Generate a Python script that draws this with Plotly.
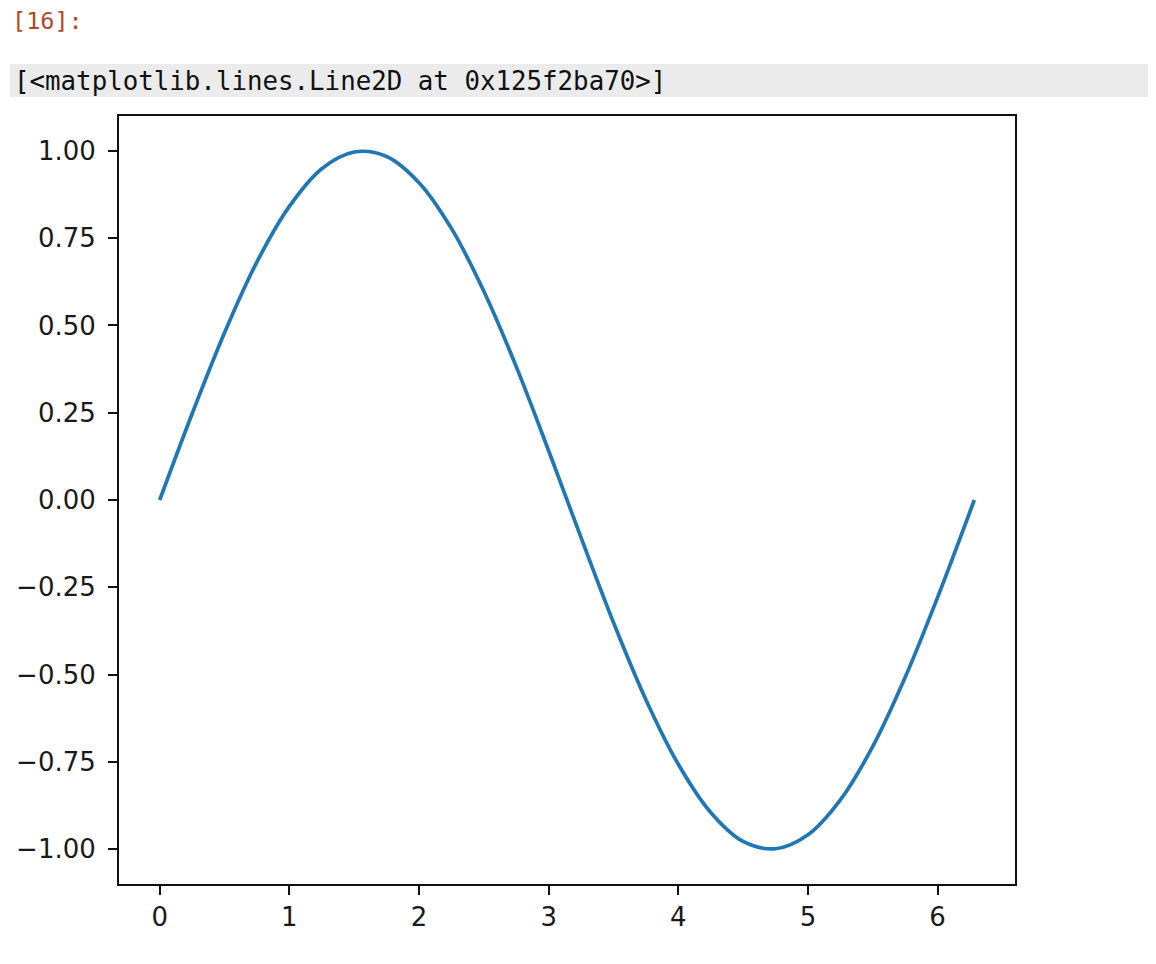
import plotly.graph_objects as go

# Data
x_values = [0.00, 0.25, 0.50, 0.75, 1.00, 1.25, 1.50, 1.75, 2.00, 2.25, 2.50, 2.75,
            3.00, 3.25, 3.50, 3.75, 4.00, 4.25, 4.50, 4.75, 5.00, 5.25, 5.50, 5.75,
            6.00, 6.283]
y_values = [0.000, 0.247, 0.479, 0.682, 0.841, 0.949, 0.997, 0.984, 0.909, 0.778,
            0.598, 0.382, 0.141, -0.108, -0.351, -0.572, -0.757, -0.895, -0.978,
            -0.999, -0.959, -0.859, -0.706, -0.508, -0.279, 0.000]
x_ticks = [0, 1, 2, 3, 4, 5, 6]
y_ticks = [-1.00, -0.75, -0.50, -0.25, 0.00, 0.25, 0.50, 0.75, 1.00]
prompt_text = "[16]:"
repr_text = "[&lt;matplotlib.lines.Line2D at 0x125f2ba70&gt;]"

W, H = 1140, 948
OFF = 8  # default body margin of the page

def px(xp):
    return (xp - OFF) / W

def py(yp):
    return 1 - (yp - OFF) / H

fig = go.Figure()
fig.add_trace(go.Scatter(
    x=x_values, y=y_values, mode="lines",
    line=dict(color="#1f77b4", width=3.7, shape="spline", smoothing=1.0),
    showlegend=False, hoverinfo="skip",
))

axis_common = dict(
    showline=True, mirror=True, linecolor="#111111", linewidth=2,
    ticks="outside", ticklen=9, tickwidth=2, tickcolor="#111111",
    showgrid=False, zeroline=False,
    tickfont=dict(family="DejaVu Sans", size=26, color="#1a1a1a"),
)

fig.update_layout(
    width=W, height=H, autosize=False,
    margin=dict(l=0, r=0, t=0, b=0),
    paper_bgcolor="white", plot_bgcolor="white",
    xaxis=dict(domain=[px(119), px(1015)], range=[-0.314, 6.597],
               tickmode="array", tickvals=x_ticks,
               ticktext=[str(v) for v in x_ticks], **axis_common),
    yaxis=dict(domain=[py(884), py(116)], range=[-1.1, 1.1],
               tickmode="array", tickvals=y_ticks, tickformat=".2f",
               ticklabelstandoff=7, **axis_common),
    shapes=[dict(type="rect", xref="paper", yref="paper",
                 x0=px(10), x1=1.0, y0=py(97), y1=py(64),
                 fillcolor="#ebebeb", line=dict(width=0), layer="below")],
    annotations=[
        dict(text=prompt_text, xref="paper", yref="paper", x=px(10), y=py(21),
             xanchor="left", yanchor="middle", showarrow=False,
             font=dict(family="DejaVu Sans Mono", size=23.5, color="#b8452a")),
        dict(text=repr_text, xref="paper", yref="paper", x=px(12), y=py(81),
             xanchor="left", yanchor="middle", showarrow=False,
             font=dict(family="DejaVu Sans Mono", size=25.8, color="#111111")),
    ],
)

fig.write_html("out.html")
